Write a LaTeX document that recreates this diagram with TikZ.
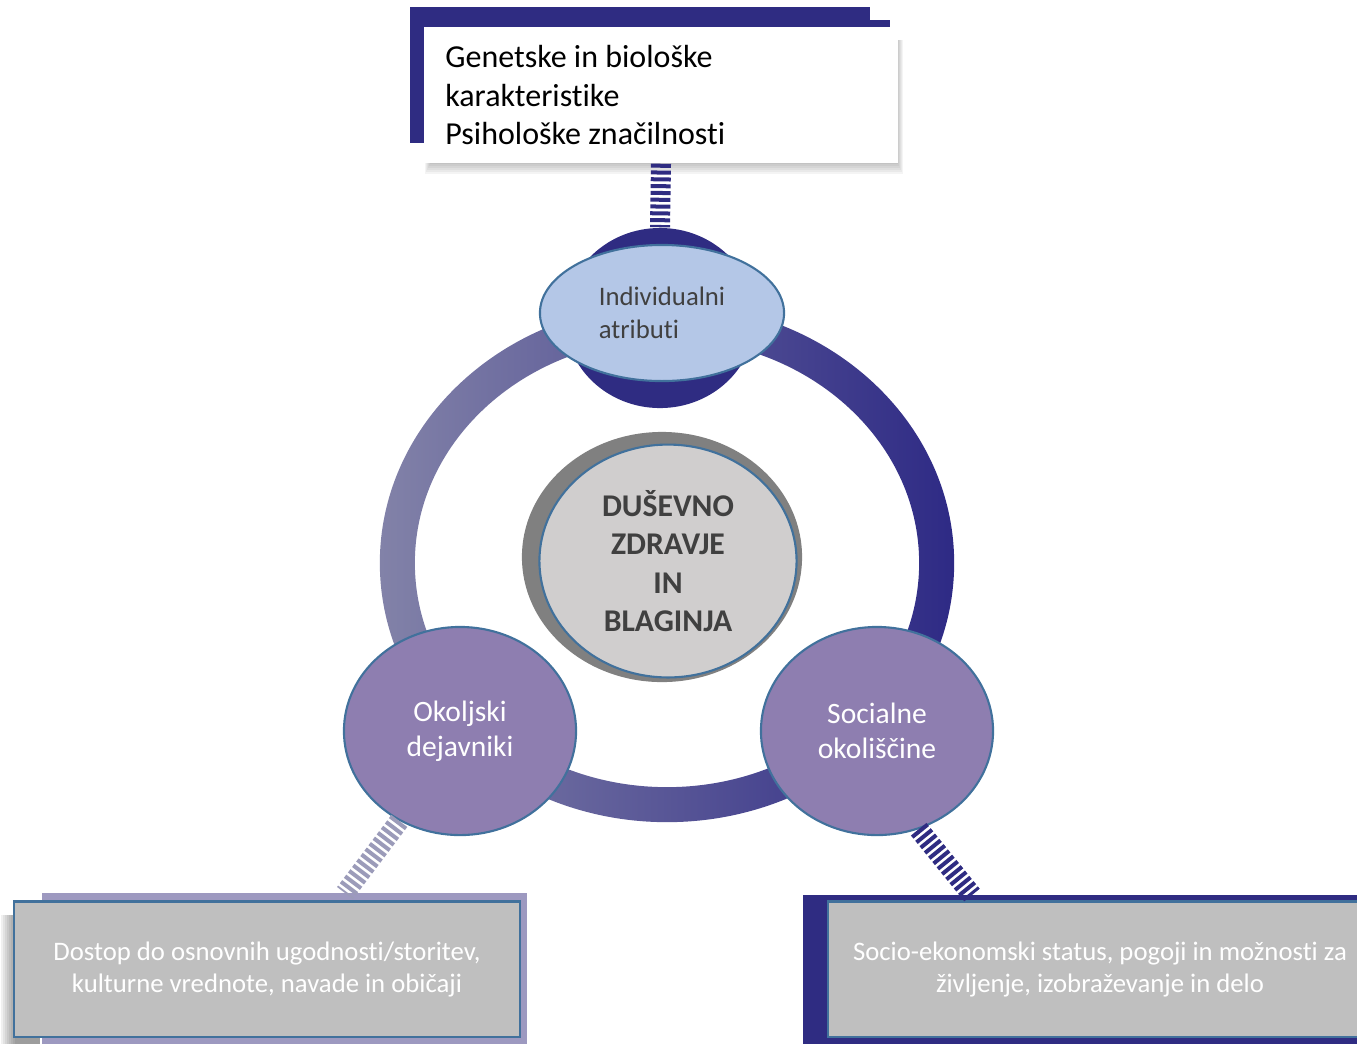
\documentclass[tikz,border=0pt]{standalone}
\usepackage{fontspec}
\setmainfont{Carlito}[RawFeature={-liga}]
\usetikzlibrary{shapes.geometric}

\definecolor{navy}{HTML}{2F2C82}
\definecolor{ringL}{HTML}{8282A8}
\definecolor{ringR}{HTML}{2E2A85}
\definecolor{lilac}{HTML}{9D99C0}
\definecolor{lblue}{HTML}{B4C7E7}
\definecolor{edgeB}{HTML}{41719C}
\definecolor{purp}{HTML}{8E7EB0}
\definecolor{lgray}{HTML}{D0CECE}
\definecolor{boxgray}{HTML}{BFBFBF}
\definecolor{txtgray}{HTML}{404040}

\begin{document}
\begin{tikzpicture}[x=0.01cm, y=-0.01cm,
    factor/.style={ellipse, draw=edgeB, line width=0.6pt, fill=purp, text=white,
        minimum width=2.32cm, minimum height=2.08cm, align=center,
        font=\fontsize{8.4}{9.9}\selectfont},
    infobox/.style={rectangle, draw=edgeB, line width=0.6pt, fill=boxgray, text=white,
        minimum height=1.35cm, align=center, font=\fontsize{7.6}{9.1}\selectfont},
    hatch/.style={line width=0.2cm, dash pattern=on 0.04cm off 0.028cm}]
    \useasboundingbox (0,0) rectangle (1357,1044);

    % back plates
    \fill[navy] (410,7) rectangle (870,143);
    \fill[navy] (425,20) rectangle (890,40);
    \fill[lilac] (42,893) rectangle (527,1044);
    \fill[navy] (803,895) rectangle (1357,1044);

    % soft shadows
    \foreach \s in {0,...,7} {
        \fill[black, opacity=0.045] (432-\s,40) rectangle (896+\s,160+2*\s);
        \fill[black, opacity=0.06] (15-2*\s,915) rectangle (40,1044);
    }

    % outer ring
    \shade[left color=ringL, right color=ringR, even odd rule]
        (667,563) ellipse (2.87cm and 2.59cm) (667,563) ellipse (2.52cm and 2.24cm);

    \node[fill=white, minimum width=4.73cm, minimum height=1.36cm,
          text width=4.31cm, align=flush left, font=\fontsize{9.1}{10.9}\selectfont]
          (traits) at (661,95) {Genetske in biološke\\karakteristike\\Psihološke značilnosti};

    \node[ellipse, fill=navy, minimum width=1.9cm, minimum height=1.8cm] (blob) at (660,318) {};
    \node[ellipse, draw=edgeB, line width=0.6pt, fill=lblue, text=txtgray,
          minimum width=2.44cm, minimum height=1.36cm, align=left,
          font=\fontsize{7.6}{9.4}\selectfont] (indiv) at (662,313) {Individualni\\atributi};

    \draw[hatch, navy] (traits.south) -- (blob.north);

    % centre
    \fill[gray] (662,557) ellipse (1.4cm and 1.25cm);
    \node[ellipse, draw=edgeB, line width=0.6pt, fill=lgray, text=txtgray,
          minimum width=2.57cm, minimum height=2.28cm, align=center,
          font=\fontsize{9}{10.9}\selectfont\bfseries] (zdravje) at (668,561)
          {DUŠEVNO\\ZDRAVJE\\IN\\BLAGINJA};

    \node[factor] (okolj) at (460,731) {Okoljski\\dejavniki};
    \node[factor] (soc) at (877,731) {Socialne\\okoliščine};

    \node[infobox, minimum width=5.05cm] (lbox) at (267,969)
          {Dostop do osnovnih ugodnosti/storitev,\\kulturne vrednote, navade in običaji};
    \node[infobox, minimum width=5.44cm] (rbox) at (1100,969)
          {Socio-ekonomski status, pogoji in možnosti za\\življenje, izobraževanje in delo};

    \coordinate (lfoot) at (345,893);
    \coordinate (rfoot) at (972,895);
    \draw[hatch, ringL!80] (okolj.236) -- (lfoot);
    \draw[hatch, navy] (soc.-67) -- (rfoot);
\end{tikzpicture}
\end{document}
